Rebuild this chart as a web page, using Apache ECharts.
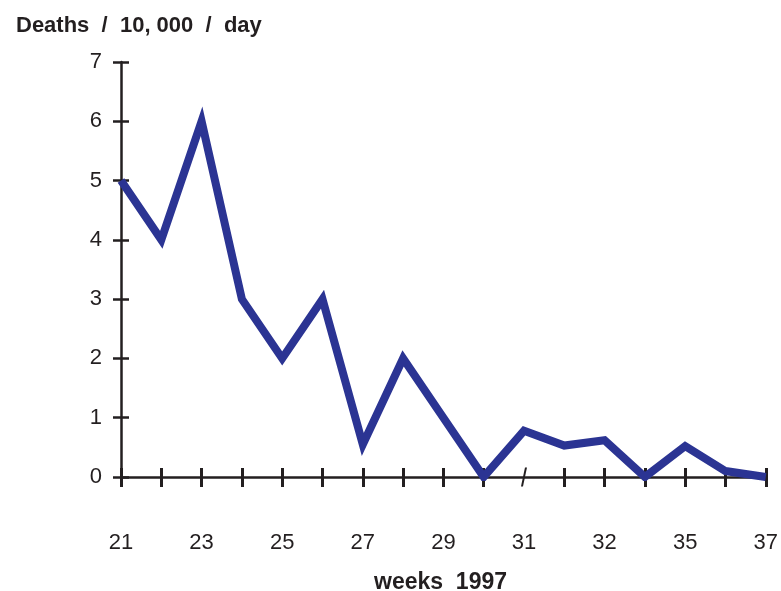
<!DOCTYPE html>
<html>
<head>
<meta charset="utf-8">
<script src="https://cdn.jsdelivr.net/npm/echarts@6/dist/echarts.min.js"></script>
<style>html,body{margin:0;padding:0;background:#fff}#c{width:781px;height:591px}</style>
</head>
<body>
<div id="c"></div>
<script>
// weeks (only every other is labelled in the reference)
const weeks = ['21','22','23','24','25','26','27','28','29','30','31','','32','','35','','37'];
const deaths = [5.0, 4.0, 6.0, 3.0, 2.0, 3.0, 0.55, 2.0, 1.0, 0.0, 0.78, 0.53, 0.62, 0.0, 0.52, 0.1, 0.0];
const yTicks = [0, 1, 2, 3, 4, 5, 6, 7];
const breakIndex = 10; // axis break mark at week 31

const chart = echarts.init(document.getElementById('c'));
const font = 'Liberation Sans, Arial, sans-serif';
const axisCol = '#231f20';
chart.setOption({
  animation: false,
  backgroundColor: '#ffffff',
  title: [
    {text: 'Deaths  /  10, 000  /  day', left: 11, top: 10,
     textStyle: {fontFamily: font, fontSize: 22, fontWeight: 'bold', color: '#231f20'}},
    {text: 'weeks  1997', left: 369, top: 566,
     textStyle: {fontFamily: font, fontSize: 23, fontWeight: 'bold', color: '#231f20'}}
  ],
  grid: {left: 121, right: 8, top: 62, bottom: 114, containLabel: false},
  xAxis: [
    {type: 'category', data: weeks, boundaryGap: false, position: 'bottom',
     axisLine: {lineStyle: {color: axisCol, width: 2.5}},
     axisTick: {length: 10, interval: (i) => i !== breakIndex, lineStyle: {color: axisCol, width: 3}},
     axisLabel: {interval: 1, margin: 55, fontFamily: font, fontSize: 22, color: '#231f20'},
     splitLine: {show: false}},
    {type: 'category', data: weeks, boundaryGap: false, position: 'bottom',
     axisLine: {show: false},
     axisTick: {inside: true, length: 9, interval: (i) => i !== breakIndex, lineStyle: {color: axisCol, width: 3}},
     axisLabel: {show: false}, splitLine: {show: false}}
  ],
  yAxis: [
    {type: 'value', min: yTicks[0], max: yTicks[yTicks.length - 1], interval: 1, position: 'left',
     axisLine: {show: true, lineStyle: {color: axisCol, width: 2.5}},
     axisTick: {show: true, length: 8, lineStyle: {color: axisCol, width: 2.5}},
     axisLabel: {margin: 19, fontFamily: font, fontSize: 22, color: '#231f20'},
     splitLine: {show: false}},
    {type: 'value', min: yTicks[0], max: yTicks[yTicks.length - 1], interval: 1, position: 'left',
     axisLine: {show: false},
     axisTick: {show: true, inside: true, length: 8, lineStyle: {color: axisCol, width: 2.5}},
     axisLabel: {show: false}, splitLine: {show: false}}
  ],
  series: [{
    type: 'line',
    data: deaths,
    xAxisIndex: 0, yAxisIndex: 0,
    symbol: 'none',
    lineStyle: {color: '#2b3493', width: 8, join: 'miter', cap: 'butt'},
    z: 1,
    markPoint: {
      silent: true,
      symbol: 'path://M3,0 L4.5,0 L1.5,10 L0,10 Z',
      symbolSize: [6, 19],
      itemStyle: {color: axisCol},
      label: {show: false},
      data: [{coord: [breakIndex, 0]}]
    }
  }]
});
</script>
</body>
</html>
